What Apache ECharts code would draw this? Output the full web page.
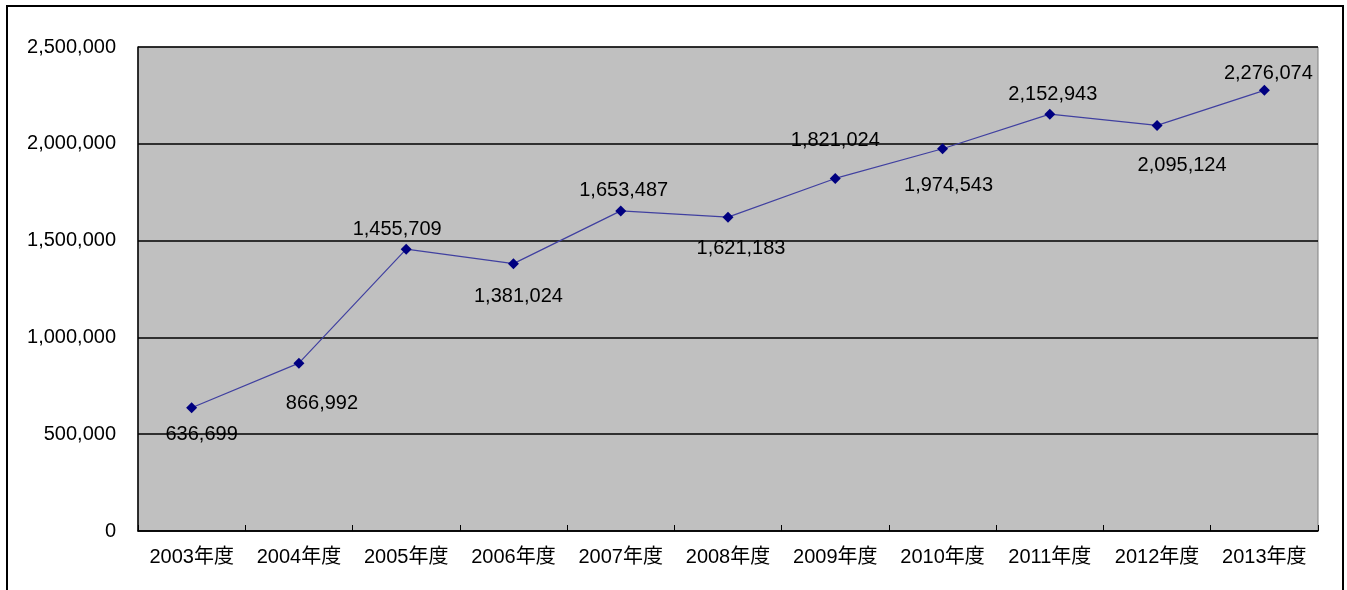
<!DOCTYPE html>
<html><head><meta charset="utf-8">
<script src="https://cdn.jsdelivr.net/npm/echarts@6/dist/echarts.min.js"></script>
<style>
html,body{margin:0;padding:0;background:#fff;}
#frame{position:absolute;left:6px;top:5px;width:1338px;height:600px;border:2px solid #000;box-sizing:border-box;}
#c{position:absolute;left:0;top:0;width:1347px;height:590px;}
</style></head>
<body>
<div id="frame"></div>
<div id="c"></div>
<script>
const categories = ['2003年度','2004年度','2005年度','2006年度','2007年度','2008年度','2009年度','2010年度','2011年度','2012年度','2013年度'];
const values = [636699, 866992, 1455709, 1381024, 1653487, 1621183, 1821024, 1974543, 2152943, 2095124, 2276074];
const yTicks = [0, 500000, 1000000, 1500000, 2000000, 2500000];
// label placement (style only): offset of label centre from the marker, in px
const labelOffsetX = [10, 23, -9, 5, 3, 13, 0, 6, 3, 25, 4];
const labelOffsetY = [27, 40, -20, 33, -20, 31, -38, 37, -20, 40, -17];

const FONT = '"Liberation Sans", "Noto Sans CJK JP", sans-serif';
const fmt = v => v.toLocaleString('en-US');

const chart = echarts.init(document.getElementById('c'));
chart.setOption({
  animation: false,
  grid: {left: 138, top: 47, width: 1180, height: 484, show: true, backgroundColor: '#C0C0C0', borderColor: '#808080', borderWidth: 1},
  xAxis: {
    type: 'category', data: categories, boundaryGap: true,
    axisLine: {lineStyle: {color: '#000', width: 1.5}},
    axisTick: {show: true, inside: true, length: 6, interval: 0, lineStyle: {color: '#000'}},
    axisLabel: {color: '#000', fontSize: 20, fontFamily: FONT, margin: 16, interval: 0, hideOverlap: false}
  },
  yAxis: {
    type: 'value', min: yTicks[0], max: yTicks[yTicks.length-1], interval: 500000,
    axisLine: {show: true, lineStyle: {color: '#000', width: 1.5}},
    axisTick: {show: false},
    splitLine: {lineStyle: {color: '#000', width: 1.5}},
    axisLabel: {color: '#000', fontSize: 20, fontFamily: FONT, margin: 22, formatter: v => fmt(v)}
  },
  series: [{
    type: 'line',
    data: values.map((v, i) => ({
      value: v,
      label: {position: 'inside', offset: [labelOffsetX[i], labelOffsetY[i]]}
    })),
    symbol: 'diamond', symbolSize: 11,
    itemStyle: {color: '#000080'},
    lineStyle: {color: '#4040a0', width: 1.2},
    label: {show: true, color: '#000', fontSize: 20, fontFamily: FONT, formatter: p => fmt(p.value)}
  }]
});
</script>
</body></html>
